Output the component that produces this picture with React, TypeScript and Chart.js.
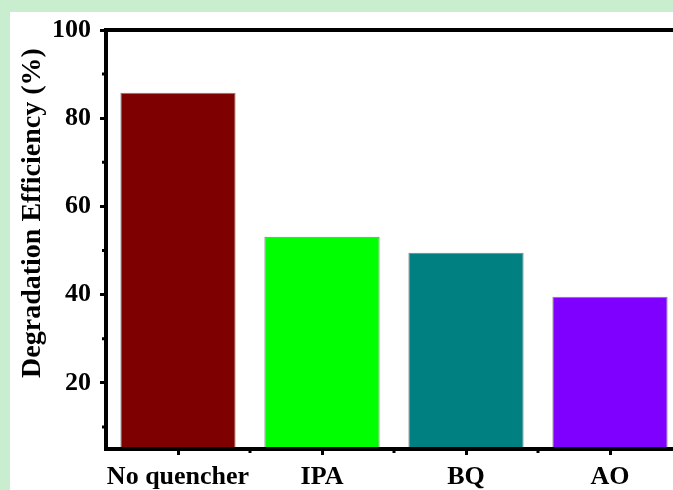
import React, { useEffect, useRef } from "react";
import { Chart, registerables } from "chart.js";

Chart.register(...registerables);

const categories = ["No quencher", "IPA", "BQ", "AO"];
const efficiency = [85.8, 53.1, 49.5, 39.5];
const barColors = ["#7f0000", "#00ff00", "#008080", "#8000ff"];
const yMajorTicks = [20, 40, 60, 80, 100];
const yMinorTicks = [10, 30, 50, 70, 90];
const yTitle = "Degradation Efficiency (%)";

const FONT = "'Times New Roman', 'Liberation Serif', serif";

const framePlugin = {
  id: "frame",
  afterDraw(chart: any) {
    const { ctx, chartArea, scales } = chart;
    const { left, right, top, bottom } = chartArea;
    ctx.save();
    ctx.strokeStyle = "#000";
    ctx.lineWidth = 4;
    ctx.strokeRect(left, top, right - left, bottom - top);
    ctx.lineWidth = 3;
    ctx.beginPath();
    yMinorTicks.forEach((v) => {
      const y = scales.y.getPixelForValue(v);
      ctx.moveTo(left - 4, y);
      ctx.lineTo(left, y);
    });
    for (let i = 0; i < categories.length - 1; i++) {
      const x = (scales.x.getPixelForValue(i) + scales.x.getPixelForValue(i + 1)) / 2;
      ctx.moveTo(x, bottom);
      ctx.lineTo(x, bottom + 4);
    }
    ctx.stroke();
    // y axis title
    ctx.translate(23, scales.y.getPixelForValue(58.5));
    ctx.rotate(-Math.PI / 2);
    ctx.font = `bold 28px ${FONT}`;
    ctx.fillStyle = "#000";
    ctx.textAlign = "center";
    ctx.textBaseline = "middle";
    ctx.fillText(yTitle, 0, 0);
    ctx.restore();
  },
};

export default function App() {
  const ref = useRef<HTMLCanvasElement | null>(null);

  useEffect(() => {
    document.body.style.margin = "0";
    document.body.style.background = "#c8edcf";
    document.body.style.overflow = "hidden";
    if (!ref.current) return;
    const chart = new Chart(ref.current, {
      type: "bar",
      data: {
        labels: categories,
        datasets: [
          {
            data: efficiency,
            backgroundColor: barColors,
            borderColor: "rgba(70,70,70,0.7)",
            borderWidth: 1,
            barPercentage: 0.8,
            categoryPercentage: 1,
          },
        ],
      },
      options: {
        animation: false,
        responsive: false,
        maintainAspectRatio: false,
        layout: { padding: { left: 8, top: 18, right: 18, bottom: 0 } },
        plugins: { legend: { display: false }, tooltip: { enabled: false } },
        scales: {
          x: {
            border: { display: false },
            grid: {
              display: true,
              offset: false,
              drawOnChartArea: false,
              drawTicks: true,
              tickLength: 6,
              tickWidth: 3,
              tickColor: "#000",
            },
            ticks: {
              color: "#000",
              padding: 7,
              autoSkip: false,
              font: { family: FONT, size: 26, weight: "bold" },
              maxRotation: 0,
              minRotation: 0,
            },
            afterFit(scale: any) {
              scale.height = 41;
              scale.paddingLeft = 0;
              scale.paddingRight = 0;
            },
          },
          y: {
            min: 5,
            max: 100,
            border: { display: false },
            afterBuildTicks(scale: any) {
              scale.ticks = yMajorTicks.map((v) => ({ value: v }));
            },
            grid: {
              display: true,
              drawOnChartArea: false,
              drawTicks: true,
              tickLength: 6,
              tickWidth: 3,
              tickColor: "#000",
            },
            ticks: {
              color: "#000",
              padding: 9,
              font: { family: FONT, size: 26, weight: "bold" },
            },
            afterFit(scale: any) {
              scale.width = 88;
              scale.paddingTop = 0;
              scale.paddingBottom = 0;
            },
          },
        },
      },
      plugins: [framePlugin],
    });
    return () => chart.destroy();
  }, []);

  return (
    <div
      style={{
        position: "fixed",
        left: 10,
        top: 12,
        width: 690,
        height: 478,
        background: "#fff",
      }}
    >
      <canvas ref={ref} width={690} height={478} style={{ display: "block" }} />
    </div>
  );
}
